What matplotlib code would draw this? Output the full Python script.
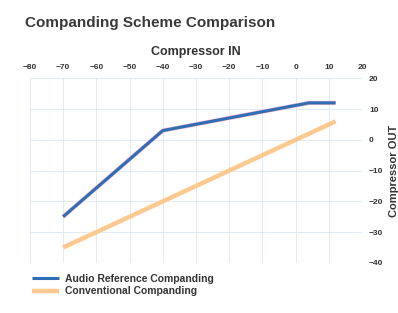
import matplotlib
matplotlib.use("Agg")
import matplotlib.pyplot as plt

plt.rcParams['font.family'] = ['Liberation Sans', 'DejaVu Sans']

# Data
comp_in_audio = [-70, -40, 4, 12]
comp_out_audio = [-25, 3, 12, 12]
comp_in_conv = [-70, 12]
comp_out_conv = [-35, 6]
x_ticks = [-80, -70, -60, -50, -40, -30, -20, -10, 0, 10, 20]
y_ticks = [-40, -30, -20, -10, 0, 10, 20]

fig = plt.figure(figsize=(3.98, 3.13), dpi=100)
ax = fig.add_axes([0.075, 0.16, 0.835, 0.59])

# pink halo under the blue line, like in the reference
ax.plot(comp_in_audio, comp_out_audio, color='#f4b6c8', lw=3.0, solid_capstyle='butt', zorder=3)
ax.plot(comp_in_audio, comp_out_audio, color='#2f6db5', lw=2.2, solid_capstyle='butt',
        label='Audio Reference Companding', zorder=4)
ax.plot(comp_in_conv, comp_out_conv, color='#fdc98f', lw=3.2, solid_capstyle='butt',
        label='Conventional Companding', zorder=2)

ax.set_xlim(-80, 20)
ax.set_ylim(-40, 20)
ax.set_xticks(x_ticks)
ax.set_yticks(y_ticks)
ax.xaxis.tick_top()
ax.xaxis.set_label_position('top')
ax.yaxis.tick_right()
ax.yaxis.set_label_position('right')
ax.tick_params(length=0, labelsize=6, labelcolor='#333333', pad=5)
for lab in ax.get_xticklabels() + ax.get_yticklabels():
    lab.set_fontweight('bold')

ax.grid(True, color='#dbe8f5', lw=0.6)
for s in ax.spines.values():
    s.set_visible(False)

ax.set_xlabel('Compressor IN', fontsize=9, fontweight='bold', color='#333333', labelpad=7)
ax.set_ylabel('Compressor OUT', fontsize=8, fontweight='bold', color='#333333',
              rotation=90, labelpad=4)

fig.text(0.063, 0.925, 'Companding Scheme Comparison', fontsize=11, fontweight='bold',
         color='#3a3a3a', va='center')

ax.legend(loc='upper left', bbox_to_anchor=(-0.005, -0.035), frameon=False, fontsize=7.5,
          handlelength=2.6, handletextpad=0.5, labelspacing=0.25, borderaxespad=0)
leg = ax.get_legend()
for t in leg.get_texts():
    t.set_fontweight('bold')
    t.set_color('#333333')

fig.savefig('out.png', dpi=100)
